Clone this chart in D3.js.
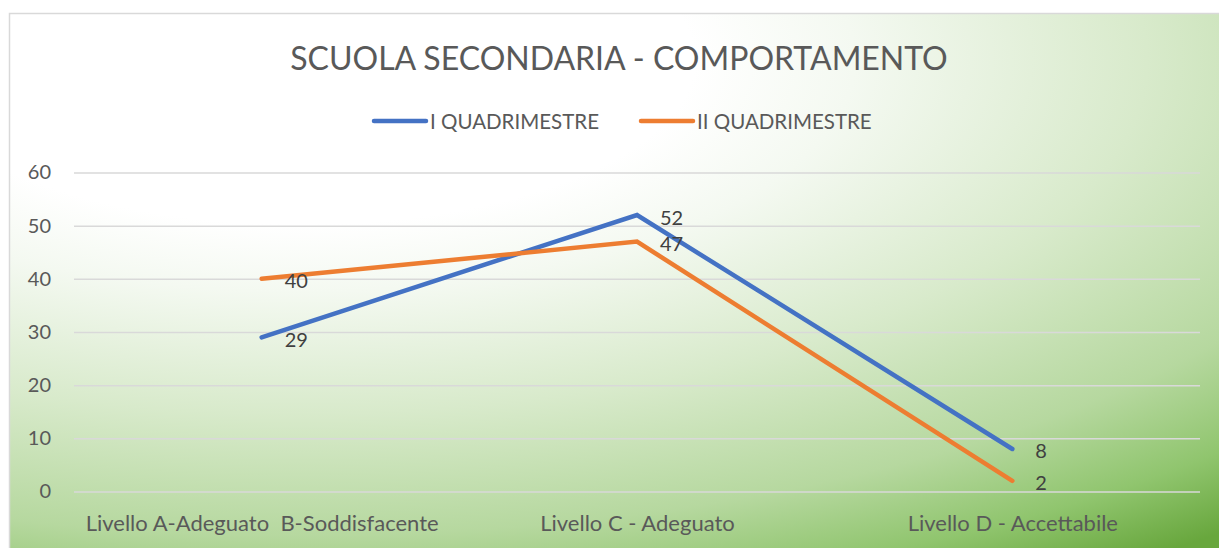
<!DOCTYPE html>
<html>
<head>
<meta charset="utf-8">
<script src="https://cdn.jsdelivr.net/npm/d3@7"></script>
<style>
  body { margin: 0; background: #fff; }
  text { font-family: Lato, "Open Sans", sans-serif; }
  .grid line { stroke: #d9d9d9; stroke-width: 1.5; }
  .axis-label { fill: #595959; font-size: 20px; }
</style>
</head>
<body>
<div id="chart"></div>
<script>
// Chart data
const categories = ["Livello A-Adeguato  B-Soddisfacente", "Livello C - Adeguato", "Livello D - Accettabile"];
const seriesNames = ["I QUADRIMESTRE", "II QUADRIMESTRE"];
const quad1 = [29, 52, 8];
const quad2 = [40, 47, 2];
const yTicks = [0, 10, 20, 30, 40, 50, 60];
const colors = ["#4472C4", "#ED7D31"];

const W = 1219, H = 548;
const plot = { left: 74, right: 1200, top: 172.5, bottom: 491.5 };

const svg = d3.select("#chart")
    .append("svg")
    .attr("width", W)
    .attr("height", H)
    .style("display", "block");

// background gradient (white top-left to green bottom-right), elliptical
const defs = svg.append("defs");
const grad = defs.append("radialGradient")
    .attr("id", "bg")
    .attr("gradientUnits", "userSpaceOnUse")
    .attr("cx", 0).attr("cy", 0).attr("r", 1.27)
    .attr("gradientTransform", "translate(300,60) scale(1150,480)");
[[0, "#ffffff"], [0.27, "#ffffff"], [0.38, "#f4f9f1"], [0.58, "#d8eacb"], [0.78, "#b6d89f"],
 [0.9, "#90c56e"], [1, "#68a73d"]].forEach(s => {
    grad.append("stop").attr("offset", s[0]).attr("stop-color", s[1]);
});

svg.append("rect")
    .attr("x", 9.5).attr("y", 13.5)
    .attr("width", 1230).attr("height", 560)
    .attr("fill", "url(#bg)")
    .attr("stroke", "#d9d9d9")
    .attr("stroke-width", 1.5);

// Title
svg.append("text")
    .attr("x", 619)
    .attr("y", 70)
    .attr("text-anchor", "middle")
    .style("font-size", "32px")
    .style("fill", "#595959")
    .text("SCUOLA SECONDARIA - COMPORTAMENTO");

// Scales
const x = d3.scalePoint()
    .domain(categories)
    .range([plot.left, plot.right])
    .padding(0.5);

const y = d3.scaleLinear()
    .domain([0, 60])
    .range([plot.bottom, plot.top]);

// Y axis with gridlines
const yAxis = svg.append("g")
    .attr("class", "grid")
    .attr("transform", `translate(${plot.left},0)`)
    .call(d3.axisLeft(y).tickValues(yTicks)
        .tickSizeInner(-(plot.right - plot.left))
        .tickSizeOuter(0)
        .tickPadding(23));
yAxis.select(".domain").remove();
yAxis.selectAll("text")
    .attr("class", "axis-label")
    .attr("fill", null);

// X axis
const xAxis = svg.append("g")
    .attr("transform", `translate(0,${plot.bottom})`)
    .call(d3.axisBottom(x).tickSize(0).tickPadding(24));
xAxis.select(".domain").remove();
xAxis.selectAll("text")
    .attr("class", "axis-label")
    .attr("fill", null)
    .style("font-size", "22px")
    .style("white-space", "pre")
    .attr("xml:space", "preserve");

// Lines
const series = [quad1, quad2];
const line = d3.line()
    .x((d, i) => x(categories[i]))
    .y(d => y(d));

series.forEach((vals, s) => {
    svg.append("path")
        .datum(vals)
        .attr("fill", "none")
        .attr("stroke", colors[s])
        .attr("stroke-width", 4.5)
        .attr("stroke-linecap", "round")
        .attr("stroke-linejoin", "miter")
        .attr("d", line);
});

// Data labels
series.forEach((vals, s) => {
    svg.selectAll(".lbl" + s)
        .data(vals)
        .enter()
        .append("text")
        .attr("x", (d, i) => x(categories[i]) + 23)
        .attr("y", d => y(d) + 1.5)
        .attr("dominant-baseline", "central")
        .style("font-size", "20px")
        .style("fill", "#404040")
        .text(d => d);
});

// Legend
const legendX = [372, 639];
seriesNames.forEach((name, s) => {
    const g = svg.append("g").attr("transform", `translate(${legendX[s]},121)`);
    g.append("line")
        .attr("x1", 2).attr("x2", 54)
        .attr("y1", 0).attr("y2", 0)
        .attr("stroke", colors[s])
        .attr("stroke-width", 4.5)
        .attr("stroke-linecap", "round");
    g.append("text")
        .attr("x", 58)
        .attr("y", 0)
        .attr("dominant-baseline", "central")
        .style("font-size", "20.5px")
        .style("fill", "#595959")
        .text(name);
});
</script>
</body>
</html>
